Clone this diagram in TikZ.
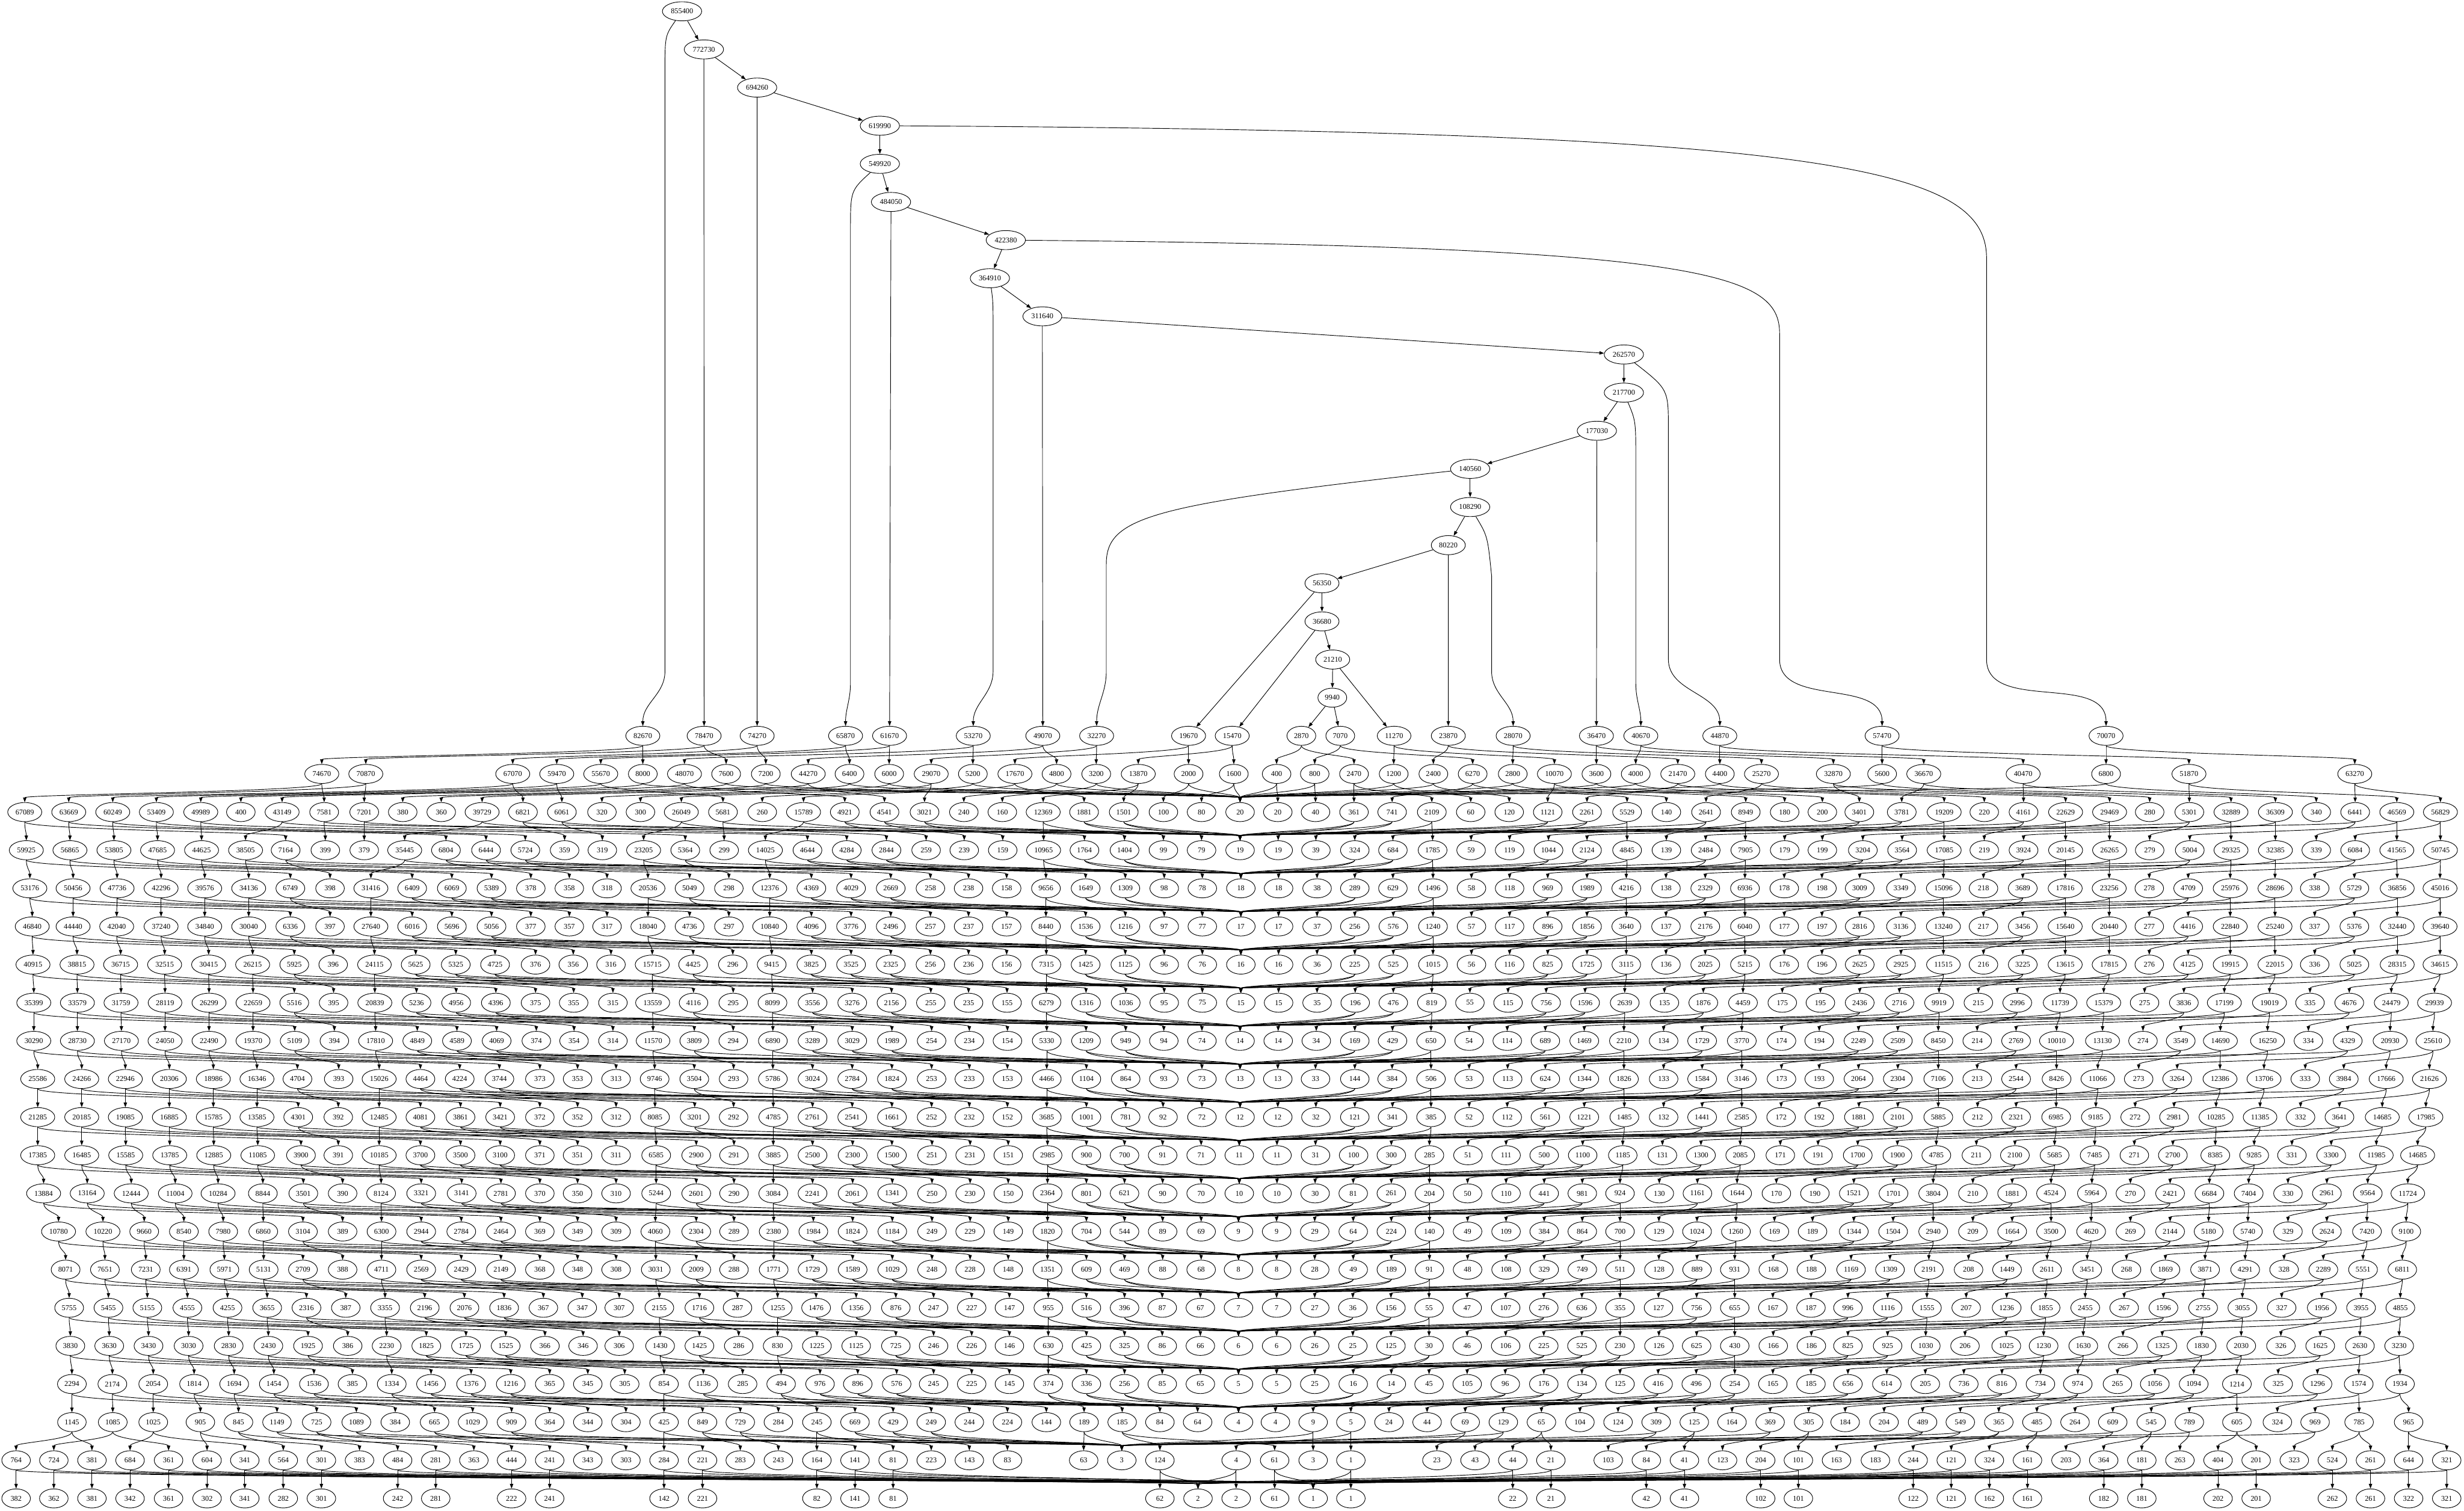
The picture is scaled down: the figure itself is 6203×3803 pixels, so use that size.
\documentclass[tikz,border=0pt]{standalone}
\usepackage{fontspec}
\setmainfont{Liberation Serif}
\usetikzlibrary{shapes.geometric,arrows.meta}
\pgfdeclarelayer{bg}
\pgfsetlayers{bg,main}
\tikzset{
  nd/.style={ellipse,draw,fill=white,line width=0.4pt,minimum width=0.72cm,minimum height=0.48cm,inner xsep=2pt,inner ysep=0pt,font=\fontsize{5.3}{6}\selectfont},
  e/.style={line width=0.4pt,-{Triangle[length=0.12cm,width=0.085cm]}},
  ed/.style={out=-90,in=90,out distance=0.2cm,in distance=0.2cm}
}
% node makers: #1 = chain j, #2 = row, #3 = x
\newcommand\mkR[3]{\pgfmathtruncatemacro\vm{39-#2}\edef\vv{\the\numexpr(380-20*#1)*\vm*(\vm+1)/2+\vm*(\vm+1)*(2*\vm+1)/6\relax}\node[nd] (R-#1-\vm) at (#3,{-28.5-96*#2}) {\vv};}
\newcommand\mkP[3]{\pgfmathtruncatemacro\vs{40-#2}\edef\vv{\the\numexpr(380-20*#1+\vs)*\vs\relax}\node[nd] (P-#1-\vs) at (#3,{-28.5-96*#2}) {\vv};}
\newcommand\mkQ[3]{\edef\vv{\the\numexpr381-20*#1\relax}\node[nd] (P-#1-1) at (#3,{-28.5-96*#2}) {\vv};}
\newcommand\mkA[3]{\pgfmathtruncatemacro\vs{41-#2}\edef\vv{\the\numexpr380-20*#1+\vs\relax}\node[nd] (A-#1-\vs) at (#3,{-28.5-96*#2}) {\vv};}
\newcommand\mkB[3]{\edef\vv{\the\numexpr381-20*#1\relax}\node[nd] (A-#1-1) at (#3,{-28.5-96*#2}) {\vv};}
\newcommand\mkL[3]{\pgfmathtruncatemacro\vs{41-#2}\node[nd] (L-\vs) at (#3,{-28.5-96*#2}) {\vs};}
\newcommand\mkM[3]{\node[nd] (L-1) at (#3,{-28.5-96*#2}) {1};}
\newcommand\seg[3]{\foreach \vT/\vJ/\vD in {#3}{\pgfmathsetmacro\vX{#1+\vD/1.011}\csname mk\vT\endcsname{\vJ}{#2}{\vX}}}
\newcommand\aseg[4]{\foreach \vT/\vJ [count=\vi from 0] in #3 {\pgfmathparse{{#4}[\vi]}\let\vD\pgfmathresult\pgfmathsetmacro\vX{#1+\vD/1.011}\csname mk\vT\endcsname{\vJ}{#2}{\vX}}}
\def\ordA{R/0,R/1,R/2,R/4,R/5,R/7,P/0,A/0,R/8,P/1,P/2,P/4,A/1,A/2,A/4}
\def\ordB{R/12,P/5,A/5,R/15,P/7,P/8,P/12,A/7,A/8,A/12,R/16,P/15,P/16,A/15,A/16}
\def\ordC{L/0,A/19,A/18,P/19,P/18,R/19,A/17,A/14,P/17,P/14,R/18,A/13,P/13,R/17,A/11,A/10}
\def\ordD{P/11,P/10,R/14,A/9,P/9,R/13,R/11,A/6,P/6,R/10,R/9,A/3,P/3,R/6,R/3}
\def\ordCb{L/0,A/19,A/18,P/19,R/19,A/17,A/14,P/18,P/17,R/18,A/13,P/14,P/13,R/17,A/11,A/10}
\def\ordDb{P/11,R/14,A/9,P/10,P/9,R/13,R/11,A/6,P/6,R/10,R/9,A/3,P/3,R/6,R/3}
\begin{document}
\begin{tikzpicture}[x=0.01cm,y=0.01cm]
\useasboundingbox (0,0) rectangle (6203,-3803);
% spine
\foreach \i/\x/\v in {0/1717/855400,1/1772/772730,2/1906/694260,3/2215/619990,4/2215/549920,5/2243/484050,6/2532/422380,7/2492/364910,8/2624/311640,9/4088/262570,10/4088/217700,11/4020/177030,12/3701/140560,13/3701/108290,14/3646/80220,15/3328/56350,16/3328/36680,17/3355/21210,18/3354/9940}
  \node[nd] (S\i) at (\x,{-28.5-96*\i}) {\v};
% row 19
\seg{1551}{19}{R/0/68,R/1/224,R/2/359,R/4/584,R/5/696,R/7/909,R/8/1086,R/12/1223,R/15/1457}
\seg{3102}{19}{R/16/0,R/19/176,R/18/275,R/17/412,R/14/550,R/13/715,R/11/927,R/10/1040,R/9/1241}
\seg{4652}{19}{R/6/87,R/3/657}
% row 20
\seg{0}{20}{R/0/819,R/1/931,R/2/1305,R/4/1417,R/5/1529}
\seg{1551}{20}{P/0/68,R/7/174,P/1/280,P/2/381,R/8/489,P/4/594,P/5/695,R/12/802,P/7/908,R/15/1015,P/8/1121,P/12/1222,R/16/1329,P/15/1457}
\seg{3102}{20}{P/16/4,P/19/113,P/18/210,R/19/310,P/17/411,P/14/512,R/18/612,P/13/714,R/17/820,P/11/927,P/10/1027,R/14/1134,P/9/1241,R/13/1347,R/11/1530}
\seg{4652}{20}{P/6/87,R/10/193,R/9/446,P/3/657,R/6/868,R/3/1290}
% row 21
\seg{0}{21}{R/0/63,R/1/175,R/2/287,R/4/398,R/5/511,A/0/613,R/7/718,P/0/825,P/1/927,A/1/1025,A/2/1123,R/8/1227,P/2/1331,P/4/1430,A/4/1532}
\seg{1551}{21}{A/5/62,R/12/166,P/5/272,A/7/372,R/15/477,P/7/582,P/8/683,P/12/785,A/8/885,A/12/983,R/16/1087,P/15/1191,P/16/1292,A/15/1393,A/16/1490}
\seg{3102}{21}{L/0/20,A/19/116,A/18/212,P/19/310,P/18/407,R/19/508,A/17/607,A/14/705,P/17/803,P/14/903,R/18/1005,A/13/1105,P/13/1206,R/17/1307,A/11/1406,A/10/1502}
\seg{4652}{21}{P/11/29,P/10/137,R/14/245,A/9/347,P/9/447,R/13/554,R/11/666,A/6/768,P/6/869,R/10/975,R/9/1088,A/3/1192,P/3/1291,R/6/1397,R/3/1508}
% row 22
\seg{0}{22}{R/0/67,R/1/178,R/2/290,R/4/401,R/5/513,R/7/625,P/0/727,A/0/828,A/1/927,R/8/1030,P/1/1135,P/2/1237,P/4/1337,A/2/1437,A/4/1533}
\seg{1551}{22}{R/12/70,P/5/176,A/5/275,R/15/380,P/7/487,P/8/587,P/12/688,A/7/789,A/8/886,A/12/984,R/16/1088,P/15/1192,P/16/1294,A/15/1393,A/16/1490}
\seg{3102}{22}{L/0/20,A/19/117,A/18/213,P/19/312,P/18/409,R/19/510,A/17/608,A/14/706,P/17/805,P/14/903,R/18/1005,A/13/1105,P/13/1205,R/17/1306,A/11/1406,A/10/1502}
\seg{4652}{22}{P/11/38,P/10/138,R/14/245,A/9/347,P/9/447,R/13/554,R/11/666,A/6/768,P/6/870,R/10/975,R/9/1088,A/3/1192,P/3/1291,R/6/1397,R/3/1508}
% rows 23-36, crop A
\aseg{0}{23}{\ordA}{76,186,298,410,521,633,739,840,944,1049,1150,1251,1351,1449,1545}
\aseg{0}{24}{\ordA}{82,186,297,410,521,633,739,840,944,1049,1150,1251,1351,1449,1545}
\aseg{0}{25}{\ordA}{84,196,307,419,531,643,749,848,953,1058,1160,1260,1363,1459,1555}
\aseg{0}{26}{\ordA}{86,197,308,420,532,644,749,849,954,1060,1161,1262,1363,1460,1560}
\aseg{0}{27}{\ordA}{86,197,309,420,532,644,750,851,956,1062,1163,1264,1365,1461,1560}
\aseg{0}{28}{\ordA}{96,208,319,431,543,654,757,862,965,1070,1170,1271,1374,1470,1568}
\aseg{0}{29}{\ordA}{96,208,319,431,543,654,759,861,965,1070,1172,1273,1374,1470,1568}
\aseg{0}{30}{\ordA}{96,208,320,432,544,656,766,861,965,1070,1172,1273,1374,1470,1568}
\aseg{0}{31}{\ordA}{111,222,334,446,555,669,772,872,970,1072,1175,1275,1374,1470,1568}
\aseg{0}{32}{\ordA}{149,262,367,468,568,670,771,872,971,1072,1174,1275,1374,1470,1568}
\aseg{0}{33}{\ordA}{167,267,371,468,571,671,771,872,971,1072,1174,1275,1374,1470,1568}
\aseg{0}{34}{\ordA}{176,276,375,477,579,680,780,880,980,1081,1182,1283,1383,1482,1576}
\aseg{0}{35}{\ordA}{179,278,378,480,582,683,784,885,984,1085,1186,1287,1387,1484,1576}
\aseg{0}{36}{\ordA}{183,286,390,494,596,697,799,897,997,1097,1199,1300,1399,1496,1590}
% crop B
\aseg{1551}{23}{\ordB}{81,187,287,391,497,598,699,800,897,994,1094,1195,1296,1395,1492}
\aseg{1551}{24}{\ordB}{81,187,287,391,497,598,699,800,897,994,1094,1195,1296,1395,1492}
\aseg{1551}{25}{\ordB}{92,196,297,396,497,598,699,800,897,994,1095,1195,1296,1395,1492}
\aseg{1551}{26}{\ordB}{93,197,298,398,500,601,701,801,897,995,1095,1196,1297,1395,1492}
\aseg{1551}{27}{\ordB}{94,199,298,399,500,601,702,803,899,996,1096,1196,1297,1394,1491}
\aseg{1551}{28}{\ordB}{98,199,299,399,500,601,702,803,899,996,1096,1197,1297,1394,1491}
\aseg{1551}{29}{\ordB}{99,200,299,400,500,601,702,803,899,996,1096,1197,1297,1392,1491}
\aseg{1551}{30}{\ordB}{102,204,300,400,500,602,702,804,901,998,1098,1197,1294,1391,1489}
\aseg{1551}{31}{\ordB}{102,204,300,400,500,602,703,804,901,998,1098,1197,1294,1391,1489}
\aseg{1551}{32}{\ordB}{100,204,300,401,502,602,703,804,901,998,1098,1197,1294,1391,1489}
\aseg{1551}{33}{\ordB}{101,204,300,401,500,602,703,804,901,998,1098,1197,1294,1391,1489}
\aseg{1551}{34}{\ordB}{110,212,309,411,509,611,712,808,905,1001,1100,1197,1294,1390,1487}
\aseg{1551}{35}{\ordB}{112,212,312,411,511,611,712,808,905,1001,1100,1197,1294,1390,1487}
\aseg{1551}{36}{\ordB}{122,222,322,420,519,615,714,808,905,1001,1100,1197,1294,1390,1487}
% crop C
\aseg{3102}{23}{\ordC}{22,118,216,312,409,511,609,706,803,903,1003,1104,1204,1305,1405,1501}
\aseg{3102}{24}{\ordC}{22,118,216,312,410,511,609,706,803,903,1003,1104,1204,1305,1405,1501}
\aseg{3102}{25}{\ordC}{22,118,216,312,410,511,609,706,803,903,1003,1104,1204,1305,1405,1501}
\aseg{3102}{26}{\ordC}{22,118,216,313,410,508,605,702,799,898,999,1100,1199,1300,1400,1497}
\aseg{3102}{27}{\ordC}{20,117,214,312,408,506,603,700,797,896,997,1098,1196,1297,1398,1494}
\aseg{3102}{28}{\ordC}{20,116,212,312,407,506,603,701,797,896,997,1098,1196,1297,1398,1494}
\aseg{3102}{29}{\ordC}{20,116,213,312,408,506,603,700,797,896,998,1098,1196,1297,1397,1494}
\aseg{3102}{30}{\ordC}{18,114,212,309,405,502,600,697,794,892,994,1095,1193,1293,1395,1491}
\aseg{3102}{31}{\ordC}{18,114,211,308,405,502,599,697,794,891,987,1087,1184,1285,1385,1483}
\aseg{3102}{32}{\ordC}{16,113,210,308,405,502,599,697,794,891,987,1086,1183,1282,1380,1477}
\aseg{3102}{33}{\ordC}{16,113,210,308,405,502,599,697,794,891,987,1086,1183,1279,1377,1474}
\aseg{3102}{34}{\ordC}{16,113,210,307,404,501,598,696,793,890,987,1085,1182,1279,1376,1473}
\aseg{3102}{35}{\ordC}{16,113,210,307,404,501,598,696,793,890,987,1086,1182,1279,1377,1474}
\aseg{3102}{36}{\ordCb}{16,113,210,308,405,501,598,695,793,890,987,1084,1181,1279,1376,1473}
% crop D
\aseg{4652}{23}{\ordD}{30,135,243,345,445,553,665,767,866,973,1087,1188,1289,1398,1507}
\aseg{4652}{24}{\ordD}{30,135,243,345,445,553,665,767,866,973,1087,1188,1289,1398,1507}
\aseg{4652}{25}{\ordD}{30,135,243,345,445,553,665,767,866,973,1087,1188,1289,1398,1507}
\aseg{4652}{26}{\ordD}{30,131,232,332,431,540,651,755,855,958,1073,1176,1276,1383,1493}
\aseg{4652}{27}{\ordD}{27,127,230,329,428,531,648,751,847,948,1068,1172,1272,1380,1489}
\aseg{4652}{28}{\ordD}{27,127,230,329,428,531,636,740,838,947,1059,1164,1262,1370,1480}
\aseg{4652}{29}{\ordD}{28,127,230,330,428,530,631,731,830,937,1049,1152,1251,1360,1471}
\aseg{4652}{30}{\ordD}{25,126,225,327,425,526,628,729,827,935,1034,1130,1230,1345,1450}
\aseg{4652}{31}{\ordD}{15,116,217,318,418,517,621,719,820,920,1020,1120,1219,1323,1425}
\aseg{4652}{32}{\ordD}{15,115,217,318,418,517,619,719,820,918,1018,1120,1219,1321,1421}
\aseg{4652}{33}{\ordD}{8,107,206,307,405,507,609,709,808,909,1011,1110,1210,1311,1411}
\aseg{4652}{34}{\ordD}{0,101,201,301,404,503,604,703,803,904,1004,1104,1206,1306,1406}
\aseg{4652}{35}{\ordD}{0,101,198,298,403,498,599,700,800,900,1001,1102,1202,1303,1403}
\aseg{4652}{36}{\ordDb}{0,99,197,295,392,490,585,686,781,880,990,1095,1195,1300,1405}
% row 37
\seg{0}{37}{R/0/183,R/1/287,R/2/390,R/4/510,R/5/607,P/0/705,R/7/806,P/1/907,A/0/1006,R/8/1106,P/2/1203,P/4/1302,A/1/1399,A/2/1496}
\seg{1551}{37}{A/4/25,R/12/122,P/5/220,P/7/316,A/5/413,R/15/511,P/8/608,P/12/705,P/15/802,A/7/899,A/8/996,A/12/1095,P/16/1191,R/16/1288,A/15/1384,A/16/1480}
\seg{3102}{37}{L/0/16,A/19/110,P/19/206,R/19/302,A/18/399,A/17/496,P/18/593,P/17/690,R/18/787,A/14/885,A/13/982,P/14/1079,R/17/1176,A/11/1272,P/13/1369,R/14/1467,A/10/1560}
\seg{4652}{37}{A/9/92,P/11/190,P/10/286,R/13/384,R/11/481,A/6/578,P/9/674,R/10/772,P/6/869,R/9/990,A/3/1093,P/3/1189,R/6/1301,R/3/1427}
% row 38
\seg{0}{38}{P/0/41,P/1/137,Q/0/234,P/2/331,Q/1/429,P/4/527,Q/2/623,P/5/721,Q/4/818,A/0/915,P/7/1012,Q/5/1109,A/1/1206,P/8/1302,Q/7/1399,A/2/1496}
\seg{1551}{38}{A/4/25,P/12/122,Q/8/220,A/5/316,A/7/413,P/15/511,Q/12/608,Q/15/705,A/8/802,A/12/899,A/15/996,A/16/1190,L/0/1287,P/16/1384}
\seg{3102}{38}{P/19/10,Q/16/108,A/19/206,Q/19/302,A/18/521,A/17/618,P/18/714,Q/18/811,A/14/957,P/17/1054,Q/17/1151,A/13/1248,P/14/1345,Q/14/1441,A/11/1538}
\seg{4652}{38}{A/10/70,P/13/166,Q/13/263,P/11/360,Q/11/457,A/9/555,P/10/651,Q/10/748,A/6/845,P/9/942,Q/9/1039,A/3/1136,P/6/1233,Q/6/1330,P/3/1427,Q/3/1524}
% row 39
\seg{0}{39}{A/0/41,A/1/137,B/0/234,A/2/331,B/1/429,A/4/527,B/2/623,A/5/721,B/4/818,A/7/1012,B/5/1109,A/8/1302,B/7/1399}
\seg{1551}{39}{A/12/122,B/8/220,A/15/511,B/12/608,B/15/705,A/16/1384,L/0/1481}
\seg{3102}{39}{A/19/10,B/16/108,M/0/206,B/19/302,A/18/714,B/18/811,A/17/1054,B/17/1151,A/14/1345,B/14/1441}
\seg{4652}{39}{A/13/166,B/13/263,A/11/360,B/11/457,A/10/651,B/10/748,A/9/942,B/9/1039,A/6/1233,B/6/1330,A/3/1427,B/3/1524}
% edges
\begin{pgfonlayer}{bg}
\foreach \i in {0,...,17} {\pgfmathtruncatemacro\vn{\i+1}\draw[e] (S\i) -- (S\vn);}
\foreach \i in {1,2,5,8,11,14,15,16,17,18} {\draw[e] (S\i) -- (R-\i-20);}
\draw[e] (S18) -- (R-19-20);
\draw[e] (S0) .. controls (1674,-90) .. (1674,-180) -- (1674,-1690) to[out=-90,in=90] (R-0-20);
\draw[e] (S3) .. controls (4600,-330) and (5001,-420) .. (5001,-650) -- (5001,-1660) to[out=-90,in=90] (R-3-20);
\draw[e] (S4) .. controls (2141,-480) .. (2141,-580) -- (2141,-1720) to[out=-90,in=90] (R-4-20);
\draw[e] (S6) .. controls (4300,-620) and (4480,-690) .. (4480,-840) -- (4480,-1660) to[out=-90,in=90] (R-6-20);
\draw[e] (S7) .. controls (2500,-760) .. (2500,-840) -- (2500,-1690) to[out=-90,in=90] (R-7-20);
\draw[e] (S9) .. controls (4200,-980) .. (4200,-1080) -- (4200,-1660) to[out=-90,in=90] (R-9-20);
\draw[e] (S10) .. controls (4118,-1060) .. (4118,-1160) -- (4118,-1720) to[out=-90,in=90] (R-10-20);
\draw[e] (S12) .. controls (2900,-1270) and (2785,-1300) .. (2785,-1420) -- (2785,-1690) to[out=-90,in=90] (R-12-20);
\draw[e] (S13) .. controls (3745,-1350) .. (3755,-1450) -- (3755,-1690) to[out=-90,in=90] (R-13-20);
\foreach \j in {0,...,19} {
  \foreach \m in {3,...,20} {
    \pgfmathtruncatemacro\mn{\m-1}
    \draw[e] (R-\j-\m) to[ed] (R-\j-\mn);
    \draw[e] (R-\j-\m) to[ed] (P-\j-\m);
  }
  \draw[e] (R-\j-2) to[ed] (P-\j-2);
  \draw[e] (R-\j-2) to[ed] (P-\j-1);
  \foreach \s in {1,...,20} {
    \draw[e] (P-\j-\s) to[ed] (A-\j-\s);
    \draw[e] (P-\j-\s) to[ed] (L-\s);
  }
}
\end{pgfonlayer}
\end{tikzpicture}
\end{document}
